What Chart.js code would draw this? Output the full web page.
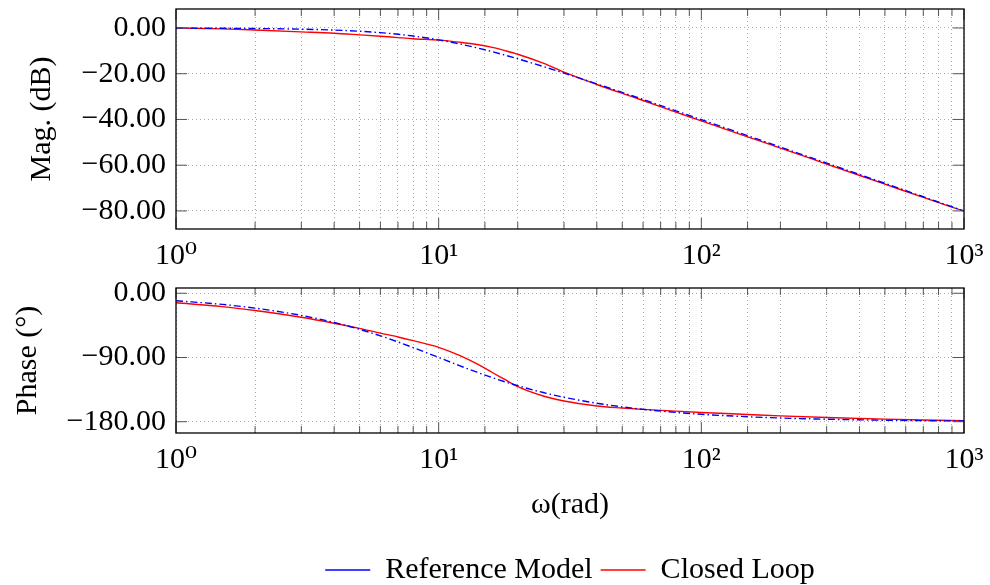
<!DOCTYPE html>
<html>
<head>
<meta charset="utf-8">
<script src="https://cdn.jsdelivr.net/npm/chart.js@4.4.1/dist/chart.umd.min.js"></script>
<style>
    html, body { margin: 0; padding: 0; background: #fff; overflow: hidden; width: 990px; height: 585px; }
    .box { position: absolute; left: 0; }
</style>
</head>
<body>
<div class="box" style="top:0"><canvas id="magChart" width="990" height="270"></canvas></div>
<div class="box" style="top:270px"><canvas id="phaseChart" width="990" height="325"></canvas></div>
<script>
// frequencies (rad) and values
const omega = [1, 1.5, 2, 3, 4, 5, 6, 7, 8, 10, 12, 14, 16, 18, 20, 25, 30, 40, 50, 60, 80, 100, 150, 200, 300, 500, 700, 1000];
const refMag = [-0.06, -0.13, -0.23, -0.52, -0.92, -1.43, -2.05, -2.75, -3.52, -5.2, -6.96, -8.7, -10.38, -11.97, -13.47, -16.83, -19.72, -24.44, -28.19, -31.28, -36.21, -40.06, -47.07, -52.06, -59.09, -67.96, -73.8, -80.0];
const closedMag = [0, -0.4, -0.9, -1.7, -2.3, -3.0, -3.6, -4.2, -4.7, -5.3, -6.2, -7.2, -8.5, -10.0, -11.5, -15.4, -19.3, -24.7, -28.6, -31.7, -36.8, -40.6, -47.6, -52.5, -59.5, -68.3, -74.1, -80.1];
const refPhase = [-10.4, -15.6, -20.8, -31.0, -40.9, -50.5, -59.6, -68.2, -76.1, -90.0, -101.4, -110.6, -118.2, -124.4, -129.5, -139.1, -145.7, -154.1, -159.2, -162.7, -166.9, -169.6, -173.0, -174.8, -176.5, -177.9, -178.5, -179.0];
const closedPhase = [-13.2, -18.7, -24.2, -33.6, -42.0, -49.2, -55.8, -61.2, -66.4, -75.7, -87.0, -99.0, -111.0, -121.5, -130.9, -144.0, -151.0, -158.0, -160.8, -162.7, -165.2, -167.0, -169.8, -171.8, -174.0, -176.3, -177.5, -178.6];

const magTicks = [-80, -60, -40, -20, 0];
const phaseTicks = [-180, -90, 0];
const decadeLabels = { 1: '10⁰', 10: '10¹', 100: '10²', 1000: '10³' };
const seriesNames = ['Reference Model', 'Closed Loop'];

const serif = { family: "'Liberation Serif', 'DejaVu Serif', serif", size: 30 };
const gridColor = '#a8a8a8';

function fmt(v) {
    return (v < 0 ? '\u2212' : '') + Math.abs(v).toFixed(2);
}

function toPoints(vals) {
    return omega.map((w, i) => ({ x: w, y: vals[i] }));
}

// box around the plot plus pgfplots style inward ticks
const frameTicks = {
    id: 'frameTicks',
    afterDatasetsDraw(chart) {
        const { ctx, chartArea: a, scales: { x, y } } = chart;
        const line = (x1, y1, x2, y2) => {
            ctx.beginPath(); ctx.moveTo(x1, y1); ctx.lineTo(x2, y2); ctx.stroke();
        };
        ctx.save();
        ctx.strokeStyle = '#555';
        ctx.lineWidth = 1;
        x.ticks.forEach(t => {
            const px = x.getPixelForValue(t.value);
            const len = decadeLabels[t.value] ? 11 : 7;
            line(px, a.bottom, px, a.bottom - len);
            line(px, a.top, px, a.top + len);
        });
        y.ticks.forEach(t => {
            const py = y.getPixelForValue(t.value);
            line(a.left, py, a.left + 11, py);
            line(a.right, py, a.right - 11, py);
        });
        ctx.strokeStyle = '#000';
        ctx.lineWidth = 1.3;
        ctx.strokeRect(a.left, a.top, a.right - a.left, a.bottom - a.top);
        ctx.restore();
    }
};

function datasets(refVals, closedVals) {
    return [{
        label: seriesNames[0],
        data: toPoints(refVals),
        borderColor: '#0000ff',
        backgroundColor: '#0000ff',
        borderWidth: 1.4,
        borderDash: [7, 3, 1.5, 3],
        pointRadius: 0,
        pointStyle: 'line',
        cubicInterpolationMode: 'monotone'
    }, {
        label: seriesNames[1],
        data: toPoints(closedVals),
        borderColor: '#ff0000',
        backgroundColor: '#ff0000',
        borderWidth: 1.4,
        pointRadius: 0,
        pointStyle: 'line',
        cubicInterpolationMode: 'monotone'
    }];
}

function xAxis(height, withTitle) {
    return {
        type: 'logarithmic',
        min: 1,
        max: 1000,
        grid: { drawTicks: false, color: gridColor, lineWidth: 1 },
        border: { display: false, dash: [1, 3] },
        ticks: {
            autoSkip: false,
            maxRotation: 0,
            padding: 9,
            color: '#000',
            font: serif,
            callback: v => decadeLabels[v] || ''
        },
        title: {
            display: withTitle,
            text: 'ω(rad)',
            color: '#000',
            font: serif,
            padding: { top: 0, bottom: 24 }
        },
        afterFit: s => { s.height = height; s.paddingLeft = 0; s.paddingRight = 0; }
    };
}

function yAxis(min, max, tickVals, title, titlePad) {
    return {
        min: min,
        max: max,
        afterBuildTicks: s => { s.ticks = tickVals.map(v => ({ value: v })); },
        grid: { drawTicks: false, color: gridColor, lineWidth: 1 },
        border: { display: false, dash: [1, 3] },
        ticks: { padding: 10, color: '#000', font: serif, callback: v => fmt(v) },
        title: { display: true, text: title, color: '#000', font: serif, padding: { top: titlePad, bottom: 0 } },
        afterFit: s => { s.width = 176; s.paddingTop = 0; s.paddingBottom = 0; }
    };
}

Chart.defaults.animation = false;

new Chart(document.getElementById('magChart').getContext('2d'), {
    type: 'line',
    data: { datasets: datasets(refMag, closedMag) },
    plugins: [frameTicks],
    options: {
        responsive: false,
        layout: { padding: { left: 0, right: 26, top: 9, bottom: 0 } },
        plugins: { legend: { display: false }, tooltip: { enabled: false } },
        scales: {
            x: xAxis(41, false),
            y: yAxis(-87.9, 8.3, magTicks, 'Mag. (dB)', 24)
        }
    }
});

new Chart(document.getElementById('phaseChart').getContext('2d'), {
    type: 'line',
    data: { datasets: datasets(refPhase, closedPhase) },
    plugins: [frameTicks],
    options: {
        responsive: false,
        layout: { padding: { left: 0, right: 26, top: 18, bottom: 0 } },
        plugins: {
            tooltip: { enabled: false },
            legend: {
                position: 'bottom',
                fullSize: false,
                labels: {
                    usePointStyle: true,
                    pointStyle: 'line',
                    pointStyleWidth: 45,
                    padding: 8,
                    color: '#000',
                    font: serif
                }
            }
        },
        scales: {
            x: xAxis(114, true),
            y: yAxis(-195.8, 7.4, phaseTicks, 'Phase (°)', 10)
        }
    }
});
</script>
</body>
</html>
